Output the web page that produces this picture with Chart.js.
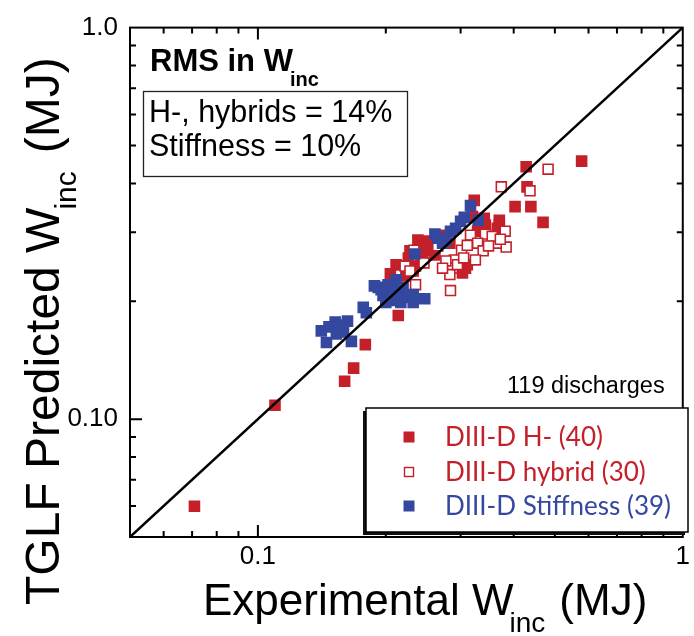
<!DOCTYPE html>
<html>
<head>
<meta charset="utf-8">
<script src="https://cdn.jsdelivr.net/npm/chart.js@4.4.1/dist/chart.umd.min.js"></script>
<style>
  html, body { margin: 0; padding: 0; background: #ffffff; }
  #wrap { width: 694px; height: 636px; position: relative; }
</style>
</head>
<body>
<div id="wrap"><canvas id="c" width="694" height="636"></canvas></div>
<script>
// Stored energy increment W_inc (MJ): experiment (x) vs TGLF prediction (y)

// DIII-D H-mode discharges (filled red)
const hModeX = [0.0709, 0.1097, 0.160, 0.168, 0.179, 0.214, 0.205, 0.223, 0.226, 0.228,
                0.235, 0.255, 0.251, 0.242, 0.308, 0.323, 0.320, 0.341, 0.370, 0.370,
                0.403, 0.430, 0.428, 0.439, 0.469, 0.578, 0.265, 0.246, 0.311, 0.329,
                0.366, 0.2115, 0.272, 0.261, 0.238, 0.283, 0.343, 0.303, 0.232, 0.2445];
const hModeY = [0.0599, 0.1085, 0.125, 0.135, 0.155, 0.184, 0.235, 0.232, 0.258, 0.269,
                0.246, 0.270, 0.285, 0.254, 0.243, 0.362, 0.329, 0.326, 0.322, 0.313,
                0.349, 0.392, 0.441, 0.349, 0.318, 0.456, 0.287, 0.275, 0.248, 0.302,
                0.307, 0.2477, 0.295, 0.2626, 0.2865, 0.2815, 0.313, 0.2364, 0.239, 0.2656];

// DIII-D hybrid discharges (open red)
const hybridX = [0.482, 0.374, 0.437, 0.382, 0.343, 0.3165, 0.329, 0.366, 0.384, 0.3015,
                 0.339, 0.325, 0.290, 0.287, 0.283, 0.284, 0.222, 0.235, 0.233, 0.356,
                 0.311, 0.349, 0.295, 0.277, 0.265, 0.246, 0.305, 0.372, 0.228, 0.272];
const hybridY = [0.435, 0.392, 0.383, 0.302, 0.297, 0.295, 0.2815, 0.2815, 0.275, 0.270,
                 0.269, 0.255, 0.255, 0.243, 0.234, 0.213, 0.246, 0.2205, 0.270, 0.293,
                 0.278, 0.277, 0.248, 0.2535, 0.277, 0.2506, 0.258, 0.288, 0.239, 0.243];

// DIII-D stiffness scan discharges (filled blue)
const stiffX = [0.141, 0.145, 0.152, 0.1625, 0.153, 0.166, 0.177, 0.180, 0.192, 0.2025,
                0.2115, 0.197, 0.208, 0.217, 0.232, 0.232, 0.247, 0.234, 0.261, 0.277,
                0.272, 0.284, 0.292, 0.300, 0.330, 0.3165, 0.195, 0.205, 0.214, 0.2196,
                0.200, 0.147, 0.159, 0.156, 0.188, 0.2255, 0.265, 0.306, 0.2115];
const stiffY = [0.168, 0.157, 0.177, 0.178, 0.165, 0.158, 0.193, 0.187, 0.217, 0.2205,
                0.227, 0.207, 0.201, 0.1986, 0.208, 0.1986, 0.203, 0.264, 0.297, 0.2865,
                0.2815, 0.302, 0.307, 0.320, 0.322, 0.351, 0.214, 0.2105, 0.2105, 0.2167,
                0.1986, 0.172, 0.167, 0.174, 0.219, 0.2045, 0.290, 0.3275, 0.2167];

// Axis range and y = x reference line
const axisRange = [0.05, 1];
const identityLine = [0.05, 1];

// Tick marks and tick labels
const minorTicks = [0.06, 0.07, 0.08, 0.09, 0.2, 0.3, 0.4, 0.5, 0.6, 0.7, 0.8, 0.9];
const majorTicks = [0.1];
const xLabelValues = [0.1, 1];
const xLabelTexts = ['0.1', '1'];
const yLabelValues = [0.1, 1];
const yLabelTexts = ['0.10', '1.0'];

// Legend entries
const legendNames = ['DIII-D H- (40)', 'DIII-D hybrid (30)', 'DIII-D Stiffness (39)'];

const RED = '#c4202a';
const BLUE = '#3448a0';
const SANS = '"Liberation Sans", Arial, sans-serif';

const toPoints = (xs, ys) => xs.map((x, i) => ({ x: x, y: ys[i] }));

function labelFor(values, texts, v) {
  for (let i = 0; i < values.length; i++) {
    if (Math.abs(values[i] - v) < 1e-9 * Math.max(1, values[i])) return texts[i];
  }
  return '';
}

const decorations = {
  id: 'decorations',
  afterDatasetsDraw(chart) {
    const ctx = chart.ctx;
    const xs = chart.scales.x, ys = chart.scales.y;
    const a = chart.chartArea;
    ctx.save();

    // frame
    ctx.strokeStyle = '#000';
    ctx.lineWidth = 2;
    ctx.strokeRect(a.left, a.top, a.right - a.left, a.bottom - a.top);

    // inward ticks on all four sides
    const drawTicks = (vals, len) => {
      ctx.lineWidth = 2;
      ctx.beginPath();
      vals.forEach(v => {
        const px = xs.getPixelForValue(v);
        ctx.moveTo(px, a.bottom); ctx.lineTo(px, a.bottom - len);
        ctx.moveTo(px, a.top); ctx.lineTo(px, a.top + len);
        const py = ys.getPixelForValue(v);
        ctx.moveTo(a.left, py); ctx.lineTo(a.left + len, py);
        ctx.moveTo(a.right, py); ctx.lineTo(a.right - len, py);
      });
      ctx.stroke();
    };
    drawTicks(minorTicks, 6);
    drawTicks(majorTicks, 12);

    // RMS heading
    ctx.fillStyle = '#000';
    ctx.textBaseline = 'alphabetic';
    ctx.textAlign = 'left';
    ctx.font = 'bold 31px ' + SANS;
    ctx.fillText('RMS in W', 150, 71);
    let w = ctx.measureText('RMS in W').width;
    ctx.font = 'bold 20px ' + SANS;
    ctx.fillText('inc', 150 + w - 3, 86);

    // RMS box
    ctx.strokeStyle = '#222';
    ctx.lineWidth = 1.3;
    ctx.strokeRect(143.5, 91.5, 264, 85);
    ctx.font = '30.5px ' + SANS;
    ctx.fillText('H-, hybrids = 14%', 149, 122);
    ctx.fillText('Stiffness = 10%', 149, 156);

    // discharge count
    ctx.font = '23.5px ' + SANS;
    ctx.fillText('119 discharges', 507, 393);

    // legend box with shadow
    ctx.fillStyle = '#111';
    ctx.fillRect(363, 411, 322, 124);
    ctx.fillStyle = '#fff';
    ctx.fillRect(366, 408, 322, 124);
    ctx.strokeStyle = '#000';
    ctx.lineWidth = 1.5;
    ctx.strokeRect(366, 408, 322, 124);

    const rowY = [437, 472, 506];
    const mx = 409;
    ctx.fillStyle = RED;
    ctx.fillRect(mx - 5.5, rowY[0] - 5.5, 11, 11);
    ctx.fillStyle = '#fff';
    ctx.strokeStyle = RED;
    ctx.lineWidth = 1.4;
    ctx.fillRect(mx - 4.5, rowY[1] - 4.5, 9, 9);
    ctx.strokeRect(mx - 4.5, rowY[1] - 4.5, 9, 9);
    ctx.fillStyle = BLUE;
    ctx.fillRect(mx - 5.5, rowY[2] - 5.5, 11, 11);

    ctx.font = '26px Lato, "Open Sans", sans-serif';
    ctx.textBaseline = 'middle';
    const colors = [RED, RED, BLUE];
    legendNames.forEach((t, i) => {
      ctx.fillStyle = colors[i];
      ctx.fillText(t, 445, rowY[i] + 1);
    });

    // x axis title
    ctx.fillStyle = '#000';
    ctx.textBaseline = 'alphabetic';
    ctx.font = '44px ' + SANS;
    let x0 = 203;
    ctx.fillText('Experimental W', x0, 615);
    x0 += ctx.measureText('Experimental W').width - 4;
    ctx.font = '28px ' + SANS;
    ctx.fillText('inc', x0, 632);
    x0 += ctx.measureText('inc').width + 14;
    ctx.font = '44px ' + SANS;
    ctx.fillText('(MJ)', x0, 615);

    // y axis title (rotated)
    ctx.translate(59, 605);
    ctx.rotate(-Math.PI / 2);
    ctx.font = '48px ' + SANS;
    let y0 = 0;
    ctx.fillText('TGLF Predicted W', y0, 0);
    y0 += ctx.measureText('TGLF Predicted W').width - 2;
    ctx.font = '30px ' + SANS;
    ctx.fillText('inc', y0, 17);
    y0 += ctx.measureText('inc').width + 18;
    ctx.font = '48px ' + SANS;
    ctx.fillText('(MJ)', y0, 0);

    ctx.restore();
  }
};

new Chart(document.getElementById('c'), {
  type: 'scatter',
  data: {
    datasets: [
      {
        type: 'line',
        label: 'y = x',
        data: toPoints(identityLine, identityLine),
        borderColor: '#000',
        borderWidth: 2.5,
        pointRadius: 0,
        fill: false
      },
      {
        label: legendNames[2],
        data: toPoints(stiffX, stiffY),
        pointStyle: 'rect',
        pointRadius: 8.2,
        backgroundColor: BLUE,
        borderColor: BLUE,
        borderWidth: 0
      },
      {
        label: legendNames[1],
        data: toPoints(hybridX, hybridY),
        pointStyle: 'rect',
        pointRadius: 7,
        backgroundColor: '#fff',
        borderColor: RED,
        borderWidth: 1.6
      },
      {
        label: legendNames[0],
        data: toPoints(hModeX, hModeY),
        pointStyle: 'rect',
        pointRadius: 8.2,
        backgroundColor: RED,
        borderColor: RED,
        borderWidth: 0
      }
    ]
  },
  options: {
    responsive: false,
    animation: false,
    events: [],
    layout: { padding: { left: 0, right: 7, top: 22, bottom: 0 } },
    plugins: { legend: { display: false }, tooltip: { enabled: false } },
    scales: {
      x: {
        type: 'logarithmic',
        min: axisRange[0],
        max: axisRange[1],
        grid: { display: false, drawTicks: false },
        border: { display: false },
        afterFit: s => { s.height = 99; },
        ticks: {
          autoSkip: false,
          maxRotation: 0,
          padding: 4,
          color: '#000',
          font: { family: SANS, size: 26 },
          callback: v => labelFor(xLabelValues, xLabelTexts, v)
        }
      },
      y: {
        type: 'logarithmic',
        min: axisRange[0],
        max: axisRange[1],
        grid: { display: false, drawTicks: false },
        border: { display: false },
        afterFit: s => { s.width = 130; },
        ticks: {
          autoSkip: false,
          padding: 12,
          color: '#000',
          font: { family: SANS, size: 26 },
          callback: v => labelFor(yLabelValues, yLabelTexts, v)
        }
      }
    }
  },
  plugins: [decorations]
});
</script>
</body>
</html>
